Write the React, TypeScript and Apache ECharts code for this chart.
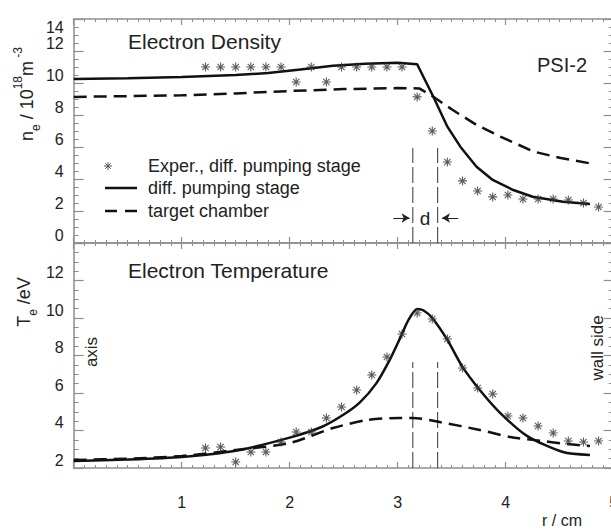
import React, { useEffect, useRef } from "react";
import * as echarts from "echarts";

// ---- data ----
const R_EXP = [1.22, 1.36, 1.5, 1.64, 1.78, 1.92, 2.06, 2.2, 2.34, 2.48, 2.62, 2.76, 2.9, 3.04, 3.18, 3.32, 3.46, 3.6, 3.74, 3.88, 4.02, 4.16, 4.3, 4.44, 4.58, 4.72, 4.86];
const NE_EXP = [11.0, 11.0, 11.0, 11.0, 11.0, 11.0, 10.06, 11.0, 10.06, 11.0, 11.0, 11.0, 11.0, 11.0, 9.13, 7.0, 5.06, 3.88, 3.25, 2.88, 3.0, 2.75, 2.75, 2.75, 2.69, 2.5, 2.25];
const TE_EXP = [3.07, 3.12, 2.32, 2.85, 2.85, 3.39, 3.92, 3.92, 4.67, 5.25, 6.16, 6.96, 7.92, 9.15, 10.27, 9.95, 8.88, 7.33, 6.27, 5.95, 4.77, 4.67, 4.24, 3.87, 3.44, 3.39, 3.44];

const R_NE_DIFF = [0, 0.5, 1.0, 1.5, 1.8, 2.1, 2.4, 2.7, 3.0, 3.18, 3.33, 3.46, 3.58, 3.73, 3.88, 4.07, 4.25, 4.53, 4.78];
const NE_DIFF = [10.25, 10.3, 10.38, 10.5, 10.62, 10.85, 11.08, 11.2, 11.26, 11.17, 9.14, 7.27, 6.02, 4.77, 3.94, 3.31, 2.89, 2.58, 2.44];
const R_NE_TARGET = [0, 0.5, 1.0, 1.5, 2.0, 2.5, 3.0, 3.2, 3.33, 3.51, 3.73, 3.95, 4.26, 4.51, 4.78];
const NE_TARGET = [9.13, 9.18, 9.23, 9.35, 9.5, 9.62, 9.68, 9.66, 9.14, 8.31, 7.38, 6.65, 5.71, 5.31, 4.98];

const R_TE_DIFF = [0, 0.5, 1.0, 1.5, 2.0, 2.3, 2.5, 2.65, 2.8, 2.92, 3.02, 3.1, 3.18, 3.24, 3.32, 3.46, 3.6, 3.76, 3.95, 4.2, 4.53, 4.78];
const TE_DIFF = [2.37, 2.45, 2.59, 2.92, 3.62, 4.2, 4.85, 5.5, 6.5, 7.7, 8.9, 9.9, 10.48, 10.4, 10.0, 8.83, 7.39, 6.16, 4.93, 3.7, 2.85, 2.69];
const R_TE_TARGET = [0, 0.5, 1.0, 1.5, 2.0, 2.4, 2.72, 3.02, 3.14, 3.39, 3.76, 4.04, 4.25, 4.57, 4.78];
const TE_TARGET = [2.43, 2.5, 2.64, 2.96, 3.33, 4.13, 4.56, 4.67, 4.67, 4.45, 4.03, 3.65, 3.5, 3.28, 3.17];

const D_LINES = [3.14, 3.37];
const D_TOP_NE = 5.94;
const D_TOP_TE = 7.65;
const D_ARROW_Y = 1.56;
const D_ARROWS = [
  [2.96, 3.11],
  [3.56, 3.41],
];

const X_RANGE = [0, 5];
const NE_RANGE = [0, 14];
const TE_RANGE = [2, 14];

const TITLES = ["Electron Density", "Electron Temperature", "PSI-2"];
const LEGEND_LABELS = ["Exper., diff. pumping stage", "diff. pumping stage", "target chamber"];

const zip = (xs: number[], ys: number[]) => xs.map((x, i) => [x, ys[i]]);

const FONT = "'Liberation Sans', Arial, Helvetica, sans-serif";
const AXIS_COLOR = "#8e8e8e";
const TEXT = "#222";
const STAR = "path://M4,0L4,8M0,4L8,4M1.2,1.2L6.8,6.8M6.8,1.2L1.2,6.8";

function xAxis(gridIndex: number, position: string, labels: boolean) {
  return {
    type: "value",
    gridIndex,
    position,
    min: X_RANGE[0],
    max: X_RANGE[1],
    interval: 1,
    axisLine: { show: true, onZero: false, lineStyle: { color: AXIS_COLOR, width: 1.5 } },
    axisTick: { show: true, inside: true, length: 6, lineStyle: { color: AXIS_COLOR, width: 1.2 } },
    minorTick: { show: true, splitNumber: 10, length: 3, lineStyle: { color: AXIS_COLOR, width: 1 } },
    axisLabel: labels
      ? { show: true, margin: 26, fontSize: 16, color: TEXT, fontFamily: FONT, showMinLabel: false, showMaxLabel: true }
      : { show: false },
    splitLine: { show: false },
    minorSplitLine: { show: false },
  };
}

function yAxis(gridIndex: number, position: string, range: number[], labels: boolean, showMax: boolean) {
  return {
    type: "value",
    gridIndex,
    position,
    min: range[0],
    max: range[1],
    interval: 2,
    axisLine: { show: true, onZero: false, lineStyle: { color: AXIS_COLOR, width: 1.5 } },
    axisTick: { show: true, inside: true, length: 10, lineStyle: { color: AXIS_COLOR, width: 1.2 } },
    minorTick: { show: true, splitNumber: 4, length: 5, lineStyle: { color: AXIS_COLOR, width: 1 } },
    axisLabel: labels
      ? {
          show: true,
          margin: 10,
          fontSize: 16,
          color: TEXT,
          fontFamily: FONT,
          verticalAlign: "bottom",
          verticalAlignMaxLabel: "top",
          verticalAlignMinLabel: "bottom",
          showMaxLabel: showMax,
          showMinLabel: true,
        }
      : { show: false },
    splitLine: { show: false },
    minorSplitLine: { show: false },
  };
}

function lineSeries(xi: number, yi: number, data: number[][], dashed: boolean, smooth = 0) {
  return {
    type: "line",
    xAxisIndex: xi,
    yAxisIndex: yi,
    data,
    smooth,
    symbol: "none",
    showSymbol: false,
    lineStyle: { color: "#111", width: 2.5, type: dashed ? [13, 7] : "solid" },
    z: 3,
  };
}

function starSeries(xi: number, yi: number, data: number[][]) {
  return {
    type: "scatter",
    xAxisIndex: xi,
    yAxisIndex: yi,
    data,
    symbol: STAR,
    symbolSize: 9,
    itemStyle: { color: "rgba(0,0,0,0)", borderColor: "#333", borderWidth: 1.1 },
    z: 4,
  };
}

function vLine(xi: number, yi: number, x: number, y0: number, y1: number, extra: any = {}) {
  return {
    type: "line",
    xAxisIndex: xi,
    yAxisIndex: yi,
    data: [
      [x, y0],
      [x, y1],
    ],
    symbol: "none",
    showSymbol: false,
    lineStyle: { color: "#333", width: 1, type: [16, 4] },
    z: 2,
    ...extra,
  };
}

export default function App() {
  const ref = useRef<HTMLDivElement>(null);
  useEffect(() => {
    const chart = echarts.init(ref.current!, null, { renderer: "svg" });
    const option: any = {
      animation: false,
      backgroundColor: "#fff",
      textStyle: { fontFamily: FONT },
      grid: [
        { left: 73.7, top: 19, width: 540, height: 224, outerBoundsMode: "none", containLabel: false },
        { left: 73.7, top: 243, width: 540, height: 225, outerBoundsMode: "none", containLabel: false },
      ],
      xAxis: [xAxis(0, "bottom", false), xAxis(0, "top", false), xAxis(1, "bottom", true), xAxis(1, "top", false)],
      yAxis: [
        yAxis(0, "left", NE_RANGE, true, true),
        yAxis(0, "right", NE_RANGE, false, false),
        yAxis(1, "left", TE_RANGE, true, false),
        yAxis(1, "right", TE_RANGE, false, false),
      ],
      series: [
        lineSeries(0, 0, zip(R_NE_DIFF, NE_DIFF), false),
        lineSeries(0, 0, zip(R_NE_TARGET, NE_TARGET), true),
        starSeries(0, 0, zip(R_EXP, NE_EXP)),
        vLine(0, 0, D_LINES[0], NE_RANGE[0], D_TOP_NE, {
          markLine: {
            silent: true,
            symbol: ["none", "arrow"],
            symbolSize: [7, 8],
            label: { show: false },
            lineStyle: { color: "#222", width: 1, type: "solid" },
            data: D_ARROWS.map((a) => [{ coord: [a[0], D_ARROW_Y] }, { coord: [a[1], D_ARROW_Y] }]),
          },
        }),
        vLine(0, 0, D_LINES[1], NE_RANGE[0], D_TOP_NE),
        lineSeries(2, 2, zip(R_TE_DIFF, TE_DIFF), false, 0.25),
        lineSeries(2, 2, zip(R_TE_TARGET, TE_TARGET), true, 0.25),
        starSeries(2, 2, zip(R_EXP, TE_EXP)),
        vLine(2, 2, D_LINES[0], TE_RANGE[0], D_TOP_TE),
        vLine(2, 2, D_LINES[1], TE_RANGE[0], D_TOP_TE),
      ],
      graphic: [
        { type: "text", x: 128, y: 41, style: { text: TITLES[0], fontSize: 21, fill: TEXT, fontFamily: FONT, align: "left", verticalAlign: "middle" } },
        { type: "text", x: 128, y: 270, style: { text: TITLES[1], fontSize: 21, fill: TEXT, fontFamily: FONT, align: "left", verticalAlign: "middle" } },
        { type: "text", x: 537, y: 65, style: { text: TITLES[2], fontSize: 20, fill: TEXT, fontFamily: FONT, align: "left", verticalAlign: "middle" } },
        { type: "text", x: 425, y: 218, style: { text: "d", fontSize: 19, fill: TEXT, fontFamily: FONT, align: "center", verticalAlign: "middle" } },
        // legend
        {
          type: "group",
          children: [
            { type: "line", shape: { x1: 108, y1: 162, x2: 108, y2: 170 }, style: { stroke: "#555", lineWidth: 1 } },
            { type: "line", shape: { x1: 104, y1: 166, x2: 112, y2: 166 }, style: { stroke: "#555", lineWidth: 1 } },
            { type: "line", shape: { x1: 105.2, y1: 163.2, x2: 110.8, y2: 168.8 }, style: { stroke: "#555", lineWidth: 1 } },
            { type: "line", shape: { x1: 110.8, y1: 163.2, x2: 105.2, y2: 168.8 }, style: { stroke: "#555", lineWidth: 1 } },
          ],
        },
        { type: "line", shape: { x1: 105, y1: 188, x2: 137, y2: 188 }, style: { stroke: "#111", lineWidth: 2.5 } },
        { type: "line", shape: { x1: 105, y1: 211, x2: 137, y2: 211 }, style: { stroke: "#111", lineWidth: 2.5, lineDash: [12, 8] } },
        ...LEGEND_LABELS.map((t, i) => ({
          type: "text",
          x: 148,
          y: [166, 188, 211][i],
          style: { text: t, fontSize: 18, fill: TEXT, fontFamily: FONT, align: "left", verticalAlign: "middle" },
        })),
        // axis titles
        {
          type: "text",
          x: 27,
          y: 94,
          rotation: Math.PI / 2,
          style: {
            text: "{b|n}{s|e}{b| / 10}{p|18}{b|m}{p| -3}",
            align: "center",
            verticalAlign: "middle",
            fill: TEXT,
            fontFamily: FONT,
            rich: {
              b: { fontSize: 18, lineHeight: 30, fill: TEXT, fontFamily: FONT },
              s: { fontSize: 12, lineHeight: 12, verticalAlign: "bottom", fill: TEXT, fontFamily: FONT },
              p: { fontSize: 12, lineHeight: 12, verticalAlign: "top", fill: TEXT, fontFamily: FONT },
            },
          },
        },
        {
          type: "text",
          x: 24,
          y: 302,
          rotation: Math.PI / 2,
          style: {
            text: "{b|T}{s|e}{b| /eV}",
            align: "center",
            verticalAlign: "middle",
            fill: TEXT,
            fontFamily: FONT,
            rich: {
              b: { fontSize: 18, lineHeight: 30, fill: TEXT, fontFamily: FONT },
              s: { fontSize: 12, lineHeight: 12, verticalAlign: "bottom", fill: TEXT, fontFamily: FONT },
            },
          },
        },
        { type: "text", x: 91, y: 352, rotation: Math.PI / 2, style: { text: "axis", fontSize: 17, fill: TEXT, fontFamily: FONT, align: "center", verticalAlign: "middle" } },
        { type: "text", x: 597, y: 348, rotation: Math.PI / 2, style: { text: "wall side", fontSize: 17, fill: TEXT, fontFamily: FONT, align: "center", verticalAlign: "middle" } },
        { type: "text", x: 562, y: 520, style: { text: "r / cm", fontSize: 16, fill: TEXT, fontFamily: FONT, align: "center", verticalAlign: "middle" } },
      ],
    };
    chart.setOption(option);
    return () => chart.dispose();
  }, []);
  return <div ref={ref} style={{ position: "absolute", left: 0, top: 0, width: 611, height: 530, background: "#fff" }} />;
}
